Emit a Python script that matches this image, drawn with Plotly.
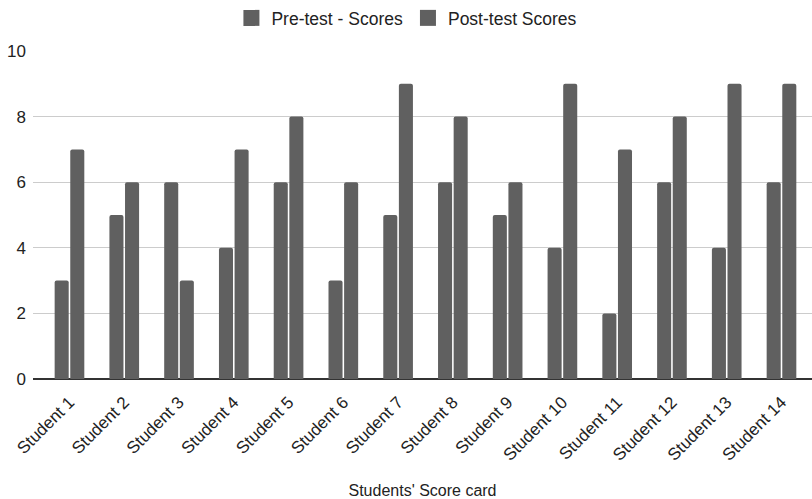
import plotly.graph_objects as go

students = [f"Student {i}" for i in range(1, 15)]
pre_scores = [3, 5, 6, 4, 6, 3, 5, 6, 5, 4, 2, 6, 4, 6]
post_scores = [7, 6, 3, 7, 8, 6, 9, 8, 6, 9, 7, 8, 9, 9]
series_names = ["Pre-test - Scores", "Post-test Scores"]
y_ticks = [0, 2, 4, 6, 8, 10]

bar_color = "#606060"
font_family = "Liberation Sans, Arial, sans-serif"

fig = go.Figure()
for name, vals in zip(series_names, [pre_scores, post_scores]):
    fig.add_trace(go.Bar(x=students, y=vals, name=name, legendgroup=name, showlegend=False,
                         marker=dict(color=bar_color, line=dict(width=0))))
# legend-only entries with larger square swatches
for name in series_names:
    fig.add_trace(go.Scatter(x=[None], y=[None], mode="markers", name=name, legendgroup=name,
                             marker=dict(symbol="square", size=17, color=bar_color),
                             showlegend=True))

fig.update_layout(
    width=812, height=499,
    margin=dict(l=33, r=0, t=51, b=120),
    paper_bgcolor="white", plot_bgcolor="white",
    font=dict(family=font_family, size=16, color="#222222"),
    barmode="group", bargap=0.43, bargroupgap=0.1, barcornerradius=2,
    showlegend=True,
    legend=dict(orientation="h", x=0.48, xanchor="center", y=1.0, yanchor="top",
                yref="container", font=dict(size=17.5, color="#222222"),
                traceorder="normal", itemwidth=30, tracegroupgap=0),
    xaxis=dict(
        range=[-0.666, 13.557], tickangle=-45, tickfont=dict(size=17, color="#222222"),
        showgrid=False, showline=False, ticks="", ticklabelstandoff=9,
        title=dict(text="Students' Score card", font=dict(size=16, color="#222222"), standoff=22),
    ),
    yaxis=dict(
        range=[0, 10], tickvals=y_ticks, tickfont=dict(size=17, color="#222222"),
        showgrid=True, gridcolor="#cccccc", gridwidth=1,
        zeroline=True, zerolinecolor="#333333", zerolinewidth=2,
        ticks="", ticklabelstandoff=6,
    ),
)

fig.write_html("out.html")
